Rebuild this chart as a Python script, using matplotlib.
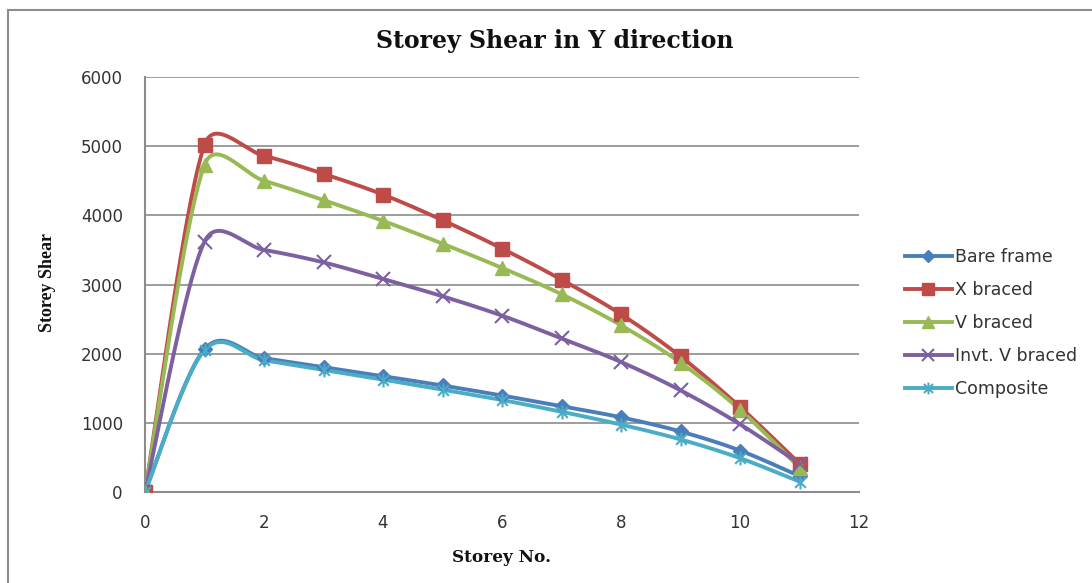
import numpy as np
import matplotlib
matplotlib.use("Agg")
import matplotlib.pyplot as plt
from matplotlib.path import Path
from matplotlib.patches import Rectangle

# Storey numbers and storey shear for each frame type
storeys = [0, 1, 2, 3, 4, 5, 6, 7, 8, 9, 10, 11]
bare_frame = [0, 2065, 1935, 1805, 1675, 1540, 1395, 1240, 1080, 875, 600, 230]
x_braced = [0, 5020, 4860, 4600, 4300, 3930, 3520, 3070, 2570, 1960, 1230, 410]
v_braced = [0, 4730, 4500, 4220, 3920, 3590, 3240, 2860, 2410, 1870, 1190, 350]
invt_v_braced = [0, 3620, 3500, 3320, 3080, 2830, 2550, 2220, 1880, 1470, 980, 410]
composite = [0, 2050, 1905, 1765, 1625, 1480, 1330, 1160, 975, 760, 490, 150]

series_names = ["Bare frame", "X braced", "V braced", "Invt. V braced", "Composite"]
x_ticks = [0, 2, 4, 6, 8, 10, 12]
y_ticks = [0, 1000, 2000, 3000, 4000, 5000, 6000]

# Asterisk marker: an X with a vertical stroke through it
star_path = Path(
    [(-1, -1), (1, 1), (-1, 1), (1, -1), (0, -1.3), (0, 1.3)],
    [Path.MOVETO, Path.LINETO, Path.MOVETO, Path.LINETO, Path.MOVETO, Path.LINETO],
)

styles = [
    dict(color="#4A7EBB", marker="D", ms=7.5),
    dict(color="#BE4B48", marker="s", ms=10),
    dict(color="#98B954", marker="^", ms=10),
    dict(color="#7D60A0", marker="x", ms=10, mew=1.5),
    dict(color="#4BACC6", marker=star_path, ms=10, mew=1.5),
]


def smooth(ax, xs, ys, n=40):
    """Cardinal Bezier curve through the points, built in screen space;
    each control arm is capped at half the length of its segment."""
    pts = ax.transData.transform(np.column_stack([xs, ys]).astype(float))
    m = len(pts)
    seg = np.linalg.norm(np.diff(pts, axis=0), axis=1)
    c_out = np.zeros_like(pts)
    c_in = np.zeros_like(pts)
    for i in range(m):
        lo_idx = min(i + 1, m - 1)
        hi_idx = max(i - 1, 0)
        d = (pts[lo_idx] - pts[hi_idx]) / 6
        dl = np.linalg.norm(d)
        if i < m - 1:
            arm = d * min(1.0, 0.5 * seg[i] / dl) if dl > 0 else d
            c_out[i] = pts[i] + arm
        if i > 0:
            arm = d * min(1.0, 0.5 * seg[i - 1] / dl) if dl > 0 else d
            c_in[i] = pts[i] - arm
    t = np.linspace(0, 1, n, endpoint=False)[:, None]
    out = []
    for i in range(m - 1):
        p0, p1, p2, p3 = pts[i], c_out[i], c_in[i + 1], pts[i + 1]
        out.append((1 - t) ** 3 * p0 + 3 * (1 - t) ** 2 * t * p1
                   + 3 * (1 - t) * t ** 2 * p2 + t ** 3 * p3)
    out.append(pts[-1][None, :])
    c = ax.transData.inverted().transform(np.vstack(out))
    return c[:, 0], c[:, 1]


fig = plt.figure(figsize=(10.92, 5.83), dpi=100)
fig.patches.append(Rectangle((8 / 1092, -0.05), 1.2, (583 - 10) / 583 + 0.05,
                             transform=fig.transFigure, fill=False,
                             edgecolor="#8C8C8C", linewidth=1.5))

ax = fig.add_axes([145 / 1092, (583 - 492) / 583, (859 - 145) / 1092, (492 - 77) / 583])
ax.set_xlim(0, 12)
ax.set_ylim(0, 6000)

all_series = [bare_frame, x_braced, v_braced, invt_v_braced, composite]
handles = []
for name, vals, st in zip(series_names, all_series, styles):
    sx, sy = smooth(ax, storeys, vals)
    ax.plot(sx, sy, color=st["color"], lw=2.8, solid_capstyle="round", zorder=3)
    ax.plot(storeys, vals, ls="none", marker=st["marker"], ms=st["ms"],
            color=st["color"], mec=st["color"], mew=st.get("mew", 1), zorder=4)
    h, = ax.plot([], [], color=st["color"], lw=2.8, marker=st["marker"],
                 ms=st["ms"] * 0.85, mew=st.get("mew", 1), label=name)
    handles.append(h)

ax.set_xticks(x_ticks)
ax.set_yticks(y_ticks)
ax.yaxis.grid(True, color="#8C8C8C", lw=1.2)
ax.set_axisbelow(True)
for side in ["right", "top"]:
    ax.spines[side].set_visible(False)
for side in ["left", "bottom"]:
    ax.spines[side].set_color("#8C8C8C")
    ax.spines[side].set_linewidth(1.5)
ax.tick_params(length=0, labelsize=12, colors="#333333")
ax.tick_params(axis="x", pad=16)
ax.tick_params(axis="y", pad=16)

serif = ["DejaVu Serif"]
fig.text(555 / 1092, 1 - 41 / 583, "Storey Shear in Y direction", ha="center",
         va="center", fontsize=17, fontweight="bold", family=serif, color="#111111")
fig.text(48 / 1092, 1 - 283 / 583, "Storey Shear", rotation=90, ha="center",
         va="center", fontsize=13, fontweight="bold", family=["Liberation Serif"],
         color="#111111")
fig.text(502 / 1092, 1 - 557 / 583, "Storey No.", ha="center", va="center",
         fontsize=12.2, fontweight="bold", family=serif, color="#111111")

fig.legend(handles=handles, loc="upper left", bbox_to_anchor=(898 / 1092, 1 - 241 / 583),
           frameon=False, fontsize=12.5, handlelength=2.7, handletextpad=0.2,
           labelspacing=0.86, labelcolor="#333333", borderaxespad=0)

fig.savefig("out.png", dpi=100, facecolor="white")
